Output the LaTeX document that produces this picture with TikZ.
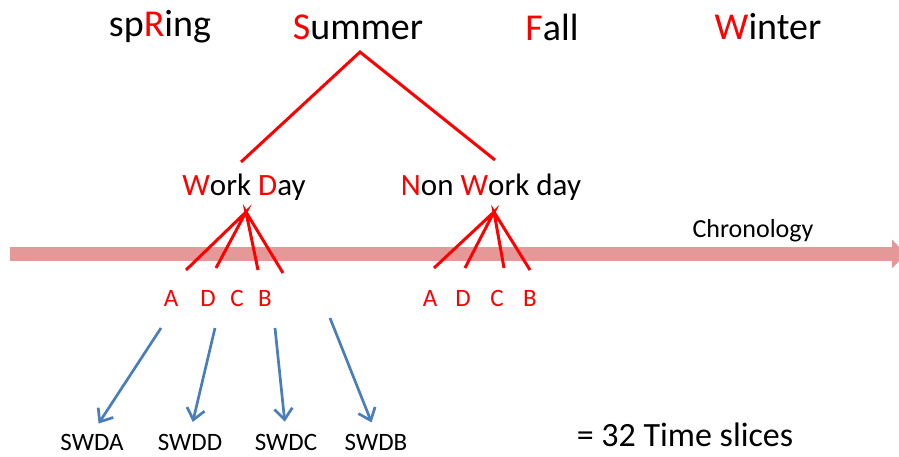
\documentclass[tikz,border=0pt]{standalone}
\usepackage{fontspec}
\setmainfont{Carlito}
\usetikzlibrary{arrows.meta}

\definecolor{chronred}{RGB}{229,152,152}
\definecolor{swdblue}{RGB}{74,126,187}
\newcommand{\redl}[1]{{\color{red}#1}}

\tikzset{
  season/.style={font=\fontsize{38}{40}\selectfont, inner sep=0pt},
  daytype/.style={font=\fontsize{31}{33}\selectfont, inner sep=0pt},
  letter/.style={font=\fontsize{25}{27}\selectfont, text=red, inner sep=0pt},
  slice/.style={font=\fontsize{25}{27}\selectfont, inner sep=0pt},
  branch/.style={draw=red, line width=3pt},
  pick/.style={draw=swdblue, line width=2.7pt, -{Straight Barb[length=11pt,width=18pt,line width=2.7pt]}, shorten >=12pt}
}

\begin{document}
\begin{tikzpicture}[x=1pt, y=-1pt]

\useasboundingbox (0,0) rectangle (899,456);

% chronology bar
\coordinate (chronstart) at (10,254);
\coordinate (chronend) at (906,254);
\draw[chronred, line width=14pt, -{Triangle[length=14pt,width=28pt]}] (chronstart) -- (chronend);
\node[slice, font=\fontsize{26}{28}\selectfont] (chron) at (753,231) {Chronology};

% seasons
\node[season] (spring) at (160,27) {sp\redl{R}ing};
\node[season] (summer) at (358,27) {\redl{S}ummer};
\node[season] (fall) at (552,27) {\redl{F}all};
\node[season] (winter) at (768,27) {\redl{W}inter};

% summer splits into day types
\coordinate (sumtip) at (360,52);
\coordinate (wdtop) at (241,162);
\coordinate (nwdtop) at (495,160);
\draw[branch] (wdtop) -- (sumtip) -- (nwdtop);

\node[daytype] (wd) at (244,187) {\redl{W}ork \redl{D}ay};
\node[daytype] (nwd) at (491,187) {\redl{N}on \redl{W}ork day};

% work day fan
\coordinate (wdfan) at (246,212);
\coordinate (wda) at (186,270);
\coordinate (wdd) at (216,268);
\coordinate (wdc) at (258,270);
\coordinate (wdb) at (283,273);
\draw[branch] (wda) -- (wdfan) -- (wdd);
\draw[branch] (wdc) -- (wdfan) -- (wdb);

\node[letter] (la) at (171,298) {A};
\node[letter] (ld) at (208,298) {D};
\node[letter] (lc) at (237,298) {C};
\node[letter] (lb) at (265,298) {B};

% non work day fan
\coordinate (nwdfan) at (494,212);
\coordinate (nwda) at (434,268);
\coordinate (nwdd) at (465,268);
\coordinate (nwdc) at (504,268);
\coordinate (nwdb) at (530,270);
\draw[branch] (nwda) -- (nwdfan) -- (nwdd);
\draw[branch] (nwdc) -- (nwdfan) -- (nwdb);

\node[letter] (na) at (430,298) {A};
\node[letter] (nd) at (463,298) {D};
\node[letter] (nc) at (497,298) {C};
\node[letter] (nb) at (530,298) {B};

% time slices
\node[slice] (swda) at (92,442) {SWDA};
\node[slice] (swdd) at (190,442) {SWDD};
\node[slice] (swdc) at (286,442) {SWDC};
\node[slice] (swdb) at (376,442) {SWDB};
\node[font=\fontsize{34}{36}\selectfont, inner sep=0pt] (total) at (685,435) {= 32 Time slices};

\coordinate (pa) at (161,328);
\coordinate (pd) at (215,328);
\coordinate (pc) at (275,328);
\coordinate (pb) at (330,318);
\draw[pick] (pa) -- (swda.north);
\draw[pick] (pd) -- (swdd.north);
\draw[pick] (pc) -- (swdc.north);
\draw[pick] (pb) -- (swdb.north);

\end{tikzpicture}
\end{document}
